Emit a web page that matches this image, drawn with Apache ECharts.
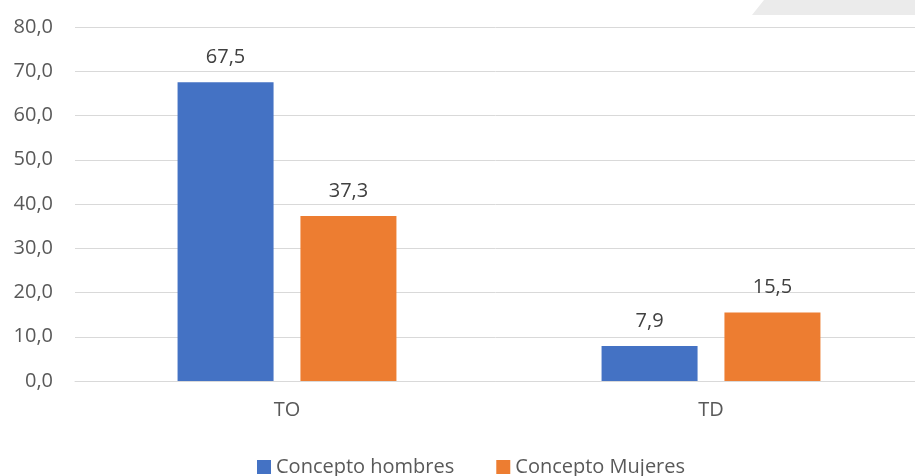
<!DOCTYPE html>
<html><head><meta charset="utf-8">
<script src="https://cdn.jsdelivr.net/npm/echarts@6/dist/echarts.min.js"></script>
<style>html,body{margin:0;padding:0;background:#fff}#c{width:915px;height:476px}</style>
</head><body><div id="c"></div>
<script>
const categories = ['TO', 'TD'];
const hombres = [67.5, 7.9];
const mujeres = [37.3, 15.5];
const seriesNames = ['Concepto hombres', 'Concepto Mujeres'];
const FONT = '"Open Sans", "Noto Sans", sans-serif';
const fmt = v => v.toFixed(1).replace('.', ',');
const chart = echarts.init(document.getElementById('c'));
const lbl = {show: true, position: 'top', distance: 15, color: '#404040', fontSize: 20, fontFamily: FONT, formatter: p => fmt(p.value)};
chart.setOption({
  animation: false,
  graphic: [{type: 'polygon', shape: {points: [[752, 15], [764, 0], [915, 0], [915, 15]]}, style: {fill: '#ebebeb'}, z: -1}],
  grid: {left: 75, width: 848, top: 27, bottom: 95, outerBoundsMode: 'none', containLabel: false},
  legend: {top: 452, left: 252, itemWidth: 14, itemHeight: 14, itemGap: 42, icon: 'rect',
    textStyle: {fontSize: 20, color: '#595959', fontFamily: FONT}, data: seriesNames},
  xAxis: {type: 'category', data: categories,
    axisLine: {lineStyle: {color: '#d9d9d9'}}, axisTick: {show: false},
    axisLabel: {fontSize: 20, color: '#595959', fontFamily: FONT, margin: 19}},
  yAxis: {type: 'value', min: 0, max: 80, interval: 10,
    axisLabel: {fontSize: 20, color: '#595959', fontFamily: FONT, margin: 22, formatter: v => fmt(v)},
    splitLine: {lineStyle: {color: '#d9d9d9', width: 1}}},
  series: [
    {name: seriesNames[0], type: 'bar', data: hombres, barWidth: 96, barGap: '28%', itemStyle: {color: '#4472c4'}, label: lbl},
    {name: seriesNames[1], type: 'bar', data: mujeres, barWidth: 96, itemStyle: {color: '#ed7d31'}, label: lbl}
  ]
});
</script></body></html>
